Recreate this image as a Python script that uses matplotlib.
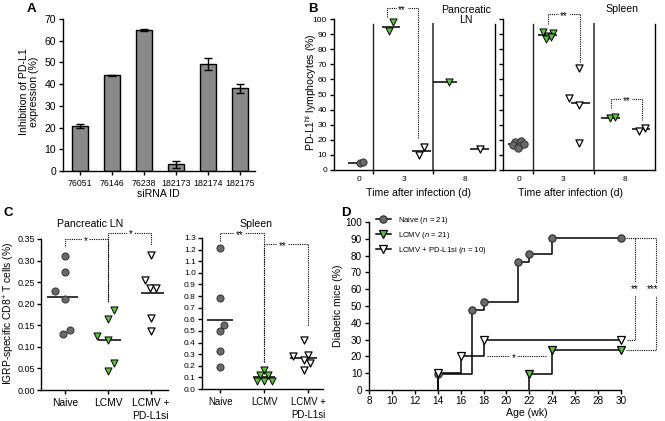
import matplotlib
matplotlib.use('Agg')
import matplotlib.pyplot as plt
import numpy as np
from matplotlib.lines import Line2D

plt.rcParams['font.family'] = ['Liberation Sans', 'DejaVu Sans']
plt.rcParams['mathtext.fontset'] = 'custom'
plt.rcParams['mathtext.rm'] = 'Liberation Sans'
plt.rcParams['mathtext.it'] = 'Liberation Sans:italic'
plt.rcParams['font.size'] = 7.3
plt.rcParams['axes.linewidth'] = 1.0
for a in ('xtick', 'ytick'):
    plt.rcParams[a + '.major.size'] = 3
    plt.rcParams[a + '.major.width'] = 1.0
    plt.rcParams[a + '.major.pad'] = 2
    plt.rcParams[a + '.labelsize'] = 7.3

# ---------------- data ----------------
# Panel A
sirna_ids = ['76051', '76146', '76238', '182173', '182174', '182175']
inhibition = [20.6, 44.1, 64.9, 3.0, 49.2, 38.1]
inhibition_err = [1.0, 0.3, 0.5, 1.6, 2.8, 2.0]

# Panel B (PD-L1hi lymphocytes %)
b_ln_d0_naive = [4.8, 5.0]
b_ln_d3_lcmv = [92.2, 97.8]
b_ln_d3_si = [9.9, 15.4]
b_ln_d8_lcmv = [58.5]
b_ln_d8_si = [13.9]
b_sp_d0_naive = [18.5, 19.0, 16.5, 16.0, 17.0, 14.5]
b_sp_d3_lcmv = [91.5, 90.5, 89.0, 87.0, 88.0]
b_sp_d3_si = [67.5, 48.0, 43.0, 17.7]
b_sp_d8_lcmv = [34.3, 35.0]
b_sp_d8_si = [26.0, 27.8]
b_day_labels = ['0', '3', '8']

# Panel C (IGRP-specific CD8+ T cells %)
c_groups = ['Naive', 'LCMV', 'LCMV +\nPD-L1si']
c_ln_naive = [0.31, 0.273, 0.23, 0.21, 0.13, 0.14]
c_ln_lcmv = [0.185, 0.165, 0.125, 0.115, 0.063, 0.043]
c_ln_si = [0.314, 0.254, 0.236, 0.236, 0.167, 0.136]
c_sp_naive = [1.21, 0.78, 0.55, 0.50, 0.33, 0.19]
c_sp_lcmv = [0.16, 0.12, 0.12, 0.07, 0.07, 0.07]
c_sp_si = [0.42, 0.28, 0.29, 0.25, 0.22, 0.16]

# Panel D (diabetic mice %)
d_naive_wk = [14, 17, 18, 21, 22, 24, 30]
d_naive_pct = [9.5, 47.6, 52.4, 76.2, 81.0, 90.5, 90.5]
d_lcmv_wk = [22, 24, 30]
d_lcmv_pct = [9.5, 23.8, 23.8]
d_si_wk = [14, 16, 18, 30]
d_si_pct = [10.0, 20.0, 30.0, 30.0]
d_labels = ['Naive ($n$ = 21)', 'LCMV ($n$ = 21)', 'LCMV + PD-L1si ($n$ = 10)']

# ---------------- style ----------------
W, H = 665, 421
fig = plt.figure(figsize=(W / 100, H / 100), dpi=100)
GRAY = '#6a6a6a'
GREEN = '#5cc43a'
BAR = '#8a8a8a'
MS = 24


def px_axes(l, t, r, b):
    return fig.add_axes([l / W, 1 - b / H, (r - l) / W, (b - t) / H])


def ftext(x, y, s, **kw):
    kw.setdefault('ha', 'center')
    kw.setdefault('va', 'center')
    return fig.text(x / W, 1 - y / H, s, **kw)


def clean(ax):
    ax.spines['top'].set_visible(False)
    ax.spines['right'].set_visible(False)


def pts(ax, xs, vals, kind, s=MS):
    if kind == 'naive':
        ax.scatter(xs, vals, s=s, marker='o', c=GRAY, edgecolors='#333333', linewidths=0.7, zorder=4, clip_on=False)
    elif kind == 'lcmv':
        ax.scatter(xs, vals, s=s, marker='v', c=GREEN, edgecolors='black', linewidths=0.7, zorder=4, clip_on=False)
    else:
        ax.scatter(xs, vals, s=s, marker='v', c='white', edgecolors='black', linewidths=0.9, zorder=4, clip_on=False)


def meanline(ax, c, hw_left, hw_right, vals, lw=1.1):
    ax.hlines(np.mean(vals), c - hw_left, c + hw_right, color='black', lw=lw, zorder=3)


def bracket(ax, x1, x2, ytop, y1low, y2low, label, tx=None):
    ax.plot([x1, x1, x2, x2], [y1low, ytop, ytop, y2low], ls=(0, (1, 1)), color='black', lw=0.8, clip_on=False, zorder=2)
    tx = (x1 + x2) / 2 if tx is None else tx
    ax.annotate(label, xy=(tx, ytop), xytext=(0, -3.6), textcoords='offset points', ha='center', va='baseline',
                fontsize=7, bbox=dict(fc='white', ec='none', pad=1.2), annotation_clip=False, zorder=3)


# ---------------- Panel A ----------------
axA = px_axes(63, 19, 255, 171)
clean(axA)
xa = np.arange(len(sirna_ids))
axA.bar(xa, inhibition, width=0.5, color=BAR, edgecolor='black', linewidth=1.0,
        yerr=inhibition_err, capsize=3, error_kw=dict(elinewidth=1, capthick=1, ecolor='black'))
axA.set_xlim(-0.53, 5.47)
axA.set_ylim(0, 70)
axA.set_yticks(range(0, 71, 10))
axA.set_xticks(xa)
axA.set_xticklabels(sirna_ids)
axA.tick_params(axis='x', labelsize=6.3, pad=3)
axA.tick_params(axis='y', labelsize=7.5)
ftext(158, 194, 'siRNA ID', fontsize=7.6)
ftext(29, 92, 'Inhibition of PD-L1\nexpression (%)', rotation=90, fontsize=7.6, linespacing=1.1)

# ---------------- Panel B ----------------
axB1 = px_axes(334, 19, 495, 170)
axB2 = px_axes(503, 19, 655, 170)
for ax in (axB1, axB2):
    clean(ax)
    ax.set_ylim(0, 100)
    ax.set_yticks(range(0, 101, 10))
    ax.tick_params(labelsize=6)
axB1.set_xlim(0.35, 3.03)
axB2.set_xlim(0.51, 3.0)
axB2.set_yticklabels([])
for ax, right in ((axB1, 3.03), (axB2, 3.0)):
    for xv, colr, lw in ((1, '#222222', 1.0), (2, '#555555', 1.4), (right, 'black', 1.0)):
        ax.axvline(xv, ymin=0, ymax=0.97, color=colr, lw=lw, clip_on=False, zorder=1)
    ax.set_xticks([1, 2], minor=True)
    ax.tick_params(axis='x', which='major', length=0, pad=4)
    ax.tick_params(axis='x', which='minor', length=3, width=1)
axB1.set_xticks([0.77, 1.52, 2.53])
axB1.set_xticklabels(b_day_labels)
axB2.set_xticks([0.77, 1.5, 2.5])
axB2.set_xticklabels(b_day_labels)

# LN
pts(axB1, [0.78, 0.84], b_ln_d0_naive, 'naive', s=26)
meanline(axB1, 0.8, 0.21, 0.1, b_ln_d0_naive)
pts(axB1, [1.27, 1.34], b_ln_d3_lcmv, 'lcmv', s=26)
meanline(axB1, 1.3, 0.15, 0.15, b_ln_d3_lcmv)
pts(axB1, [1.77, 1.85], b_ln_d3_si, 'si', s=26)
meanline(axB1, 1.8, 0.15, 0.16, b_ln_d3_si)
pts(axB1, [2.27], b_ln_d8_lcmv, 'lcmv', s=26)
meanline(axB1, 2.2, 0.2, 0.2, b_ln_d8_lcmv)
pts(axB1, [2.78], b_ln_d8_si, 'si', s=26)
meanline(axB1, 2.78, 0.17, 0.15, b_ln_d8_si)
bracket(axB1, 1.23, 1.74, 107, 101, 21, '**')

# Spleen
pts(axB2, [0.71, 0.8, 0.67, 0.77, 0.86, 0.76], b_sp_d0_naive, 'naive', s=28)
meanline(axB2, 0.77, 0.17, 0.15, b_sp_d0_naive)
pts(axB2, [1.16, 1.33, 1.25, 1.22, 1.3], b_sp_d3_lcmv, 'lcmv', s=26)
meanline(axB2, 1.25, 0.16, 0.14, b_sp_d3_lcmv)
pts(axB2, [1.75, 1.59, 1.75, 1.75], b_sp_d3_si, 'si', s=26)
meanline(axB2, 1.78, 0.15, 0.15, b_sp_d3_si)
pts(axB2, [2.26, 2.34], b_sp_d8_lcmv, 'lcmv', s=26)
meanline(axB2, 2.27, 0.15, 0.16, b_sp_d8_lcmv)
pts(axB2, [2.74, 2.84], b_sp_d8_si, 'si', s=26)
meanline(axB2, 2.78, 0.16, 0.14, b_sp_d8_si)
bracket(axB2, 1.25, 1.77, 103, 97, 71, '**')
bracket(axB2, 2.28, 2.79, 47, 41, 33, '**')

ftext(311, 92, 'PD-L1$^{\\mathrm{hi}}$ lymphocytes (%)', rotation=90, fontsize=7.6)
ftext(419, 193, 'Time after infection (d)', fontsize=7.6)
ftext(571, 193, 'Time after infection (d)', fontsize=7.6)
ftext(466, 15, 'Pancreatic\nLN', fontsize=7.6, linespacing=1.1)
ftext(622, 9, 'Spleen', fontsize=7.6)

# ---------------- Panel C ----------------
axC1 = px_axes(41, 239, 168, 390)
axC2 = px_axes(202, 238, 323, 389)
cx = np.arange(len(c_groups))
for ax in (axC1, axC2):
    clean(ax)
    ax.set_xticks(cx)
    ax.set_xticklabels(c_groups, linespacing=1.3)
    ax.tick_params(axis='x', pad=3)
    ax.tick_params(axis='y', pad=1.5)
axC1.tick_params(axis='x', labelsize=7.4)
axC1.tick_params(axis='y', labelsize=6.5)
axC2.tick_params(axis='x', labelsize=6.9)
axC2.tick_params(axis='y', labelsize=6.0)
axC1.set_xlim(-0.565, 2.4)
axC1.set_ylim(0, 0.35)
axC1.set_yticks(np.arange(0, 0.351, 0.05))
axC1.set_yticklabels(['%.2f' % v for v in np.arange(0, 0.351, 0.05)])
axC2.set_xlim(-0.41, 2.34)
axC2.set_ylim(0, 1.3)
axC2.set_yticks(np.arange(0, 1.301, 0.1))
axC2.set_yticklabels(['%.1f' % v for v in np.arange(0, 1.301, 0.1)])

CS = 26
pts(axC1, cx[0] + np.array([0, 0, -0.24, 0, -0.05, 0.12]), c_ln_naive, 'naive', s=CS)
meanline(axC1, cx[0], 0.42, 0.31, c_ln_naive)
pts(axC1, cx[1] + np.array([0.13, 0, -0.25, 0, 0.13, 0]), c_ln_lcmv, 'lcmv', s=CS)
meanline(axC1, cx[1], 0.24, 0.31, c_ln_lcmv)
pts(axC1, cx[2] + np.array([0, -0.14, -0.02, 0.12, 0, 0]), c_ln_si, 'si', s=CS)
meanline(axC1, cx[2], 0.24, 0.31, c_ln_si)
bracket(axC1, cx[0], cx[1], 0.35, 0.333, 0.205, '*', tx=0.47)
bracket(axC1, cx[1], cx[2], 0.365, 0.205, 0.335, '*', tx=1.53)

pts(axC2, cx[0] + np.array([0, 0, 0.09, 0, 0, 0]), c_sp_naive, 'naive', s=CS)
meanline(axC2, cx[0], 0.3, 0.3, c_sp_naive)
pts(axC2, cx[1] + np.array([0, -0.09, 0.09, -0.17, 0, 0.17]), c_sp_lcmv, 'lcmv', s=CS)
meanline(axC2, cx[1], 0.25, 0.25, c_sp_lcmv)
pts(axC2, cx[2] + np.array([-0.09, -0.34, 0.0, -0.09, 0.05, -0.09]), c_sp_si, 'si', s=CS)
meanline(axC2, cx[2] - 0.05, 0.36, 0.25, c_sp_si)
bracket(axC2, cx[0], cx[1], 1.345, 1.27, 0.235, '**', tx=0.45)
bracket(axC2, cx[1], cx[2], 1.25, 0.235, 0.54, '**', tx=1.43)

ftext(9, 313, 'IGRP-specific CD8$^{+}$ T cells (%)', rotation=90, fontsize=7.4)
ftext(90, 224, 'Pancreatic LN', fontsize=7.6)
ftext(256, 224, 'Spleen', fontsize=7.6)

# ---------------- Panel D ----------------
axD = px_axes(369, 222, 621, 390)
clean(axD)
axD.set_xlim(8, 30)
axD.set_ylim(0, 100)
axD.set_xticks(range(8, 31, 2))
axD.set_yticks(range(0, 101, 10))
axD.tick_params(labelsize=7.2)
axD.tick_params(axis='x', pad=1)

series = [
    (d_naive_wk, d_naive_pct, dict(marker='o', mfc=GRAY, mec='#333333')),
    (d_lcmv_wk, d_lcmv_pct, dict(marker='v', mfc=GREEN, mec='black')),
    (d_si_wk, d_si_pct, dict(marker='v', mfc='white', mec='black')),
]
handles = []
for wk, pct, mk in series:
    xs = [wk[0]] + list(wk)
    ys = [0] + list(pct)
    axD.step(xs, ys, where='post', color='black', lw=1.1, zorder=2, clip_on=False)
    axD.plot(wk, pct, ls='none', ms=5.2, mew=0.9, zorder=4, clip_on=False, **mk)
    handles.append(Line2D([], [], color='black', lw=1.1, ms=5.2, mew=0.9, **mk))
axD.legend(handles, d_labels, loc='upper left', bbox_to_anchor=(0.015, 1.06), frameon=False,
           fontsize=5.6, handlelength=1.9, handletextpad=0.9, labelspacing=0.5, borderaxespad=0)

dstyle = dict(ls=(0, (1, 1)), color='black', lw=0.8, clip_on=False)
axD.plot([30.45, 33.05, 33.05, 30.45], [d_naive_pct[-1], d_naive_pct[-1], d_lcmv_pct[-1], d_lcmv_pct[-1]], **dstyle)
axD.plot([31.2, 31.2, 30.45], [d_naive_pct[-1], d_si_pct[-1], d_si_pct[-1]], **dstyle)
axD.plot([18.3, 23.55], [20.2, 20.2], **dstyle)
for tx, ty, lab in ((31.2, 61, '**'), (32.75, 61, '***'), (20.6, 20.2, '*')):
    axD.annotate(lab, xy=(tx, ty), xytext=(0, -3.6), textcoords='offset points', ha='center', va='baseline',
                 fontsize=7, bbox=dict(fc='white', ec='none', pad=1.2), annotation_clip=False, zorder=3)

ftext(338, 306, 'Diabetic mice (%)', rotation=90, fontsize=7.6)
ftext(527, 413, 'Age (wk)', fontsize=7.6)

# panel letters
for x, y, s in ((31, 9, 'A'), (313, 9, 'B'), (8, 213, 'C'), (346, 213, 'D')):
    ftext(x, y, s, fontsize=9.5, fontweight='bold')

fig.savefig('out.png', dpi=100)
